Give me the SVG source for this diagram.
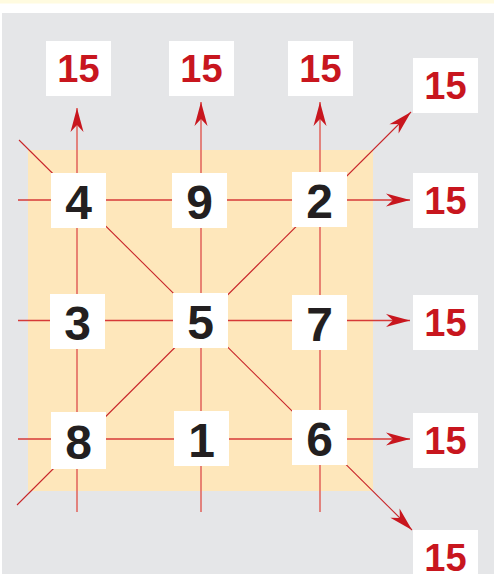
<svg xmlns="http://www.w3.org/2000/svg" width="494" height="574" viewBox="0 0 494 574">
<defs>
<style>
.box{fill:#FFFFFF}
.num{font-family:"Liberation Sans",Arial,sans-serif;font-weight:bold;font-size:48px;fill:#231F20;text-anchor:middle}
.sum{font-family:"Liberation Sans",Arial,sans-serif;font-weight:bold;font-size:38px;fill:#C8161E;text-anchor:middle}
.v{stroke:#E0605A;stroke-width:1.5;fill:none}
.h{stroke:#D63A38;stroke-width:1.3;fill:none}
.d{stroke:#C8262A;stroke-width:1.1;fill:none}
</style>
<marker id="arr" markerUnits="userSpaceOnUse" viewBox="-25 -8 26 16" refX="0" refY="0" markerWidth="26" markerHeight="16" orient="auto">
<path d="M0,0 L-24,-6.5 L-17,0 L-24,6.5 Z" fill="#C8161E"/>
</marker>
</defs>
<rect x="0" y="0" width="494" height="574" fill="#FFFFFF"/>
<rect x="0" y="0" width="494" height="3.5" fill="#FFFBE0"/>
<rect x="2" y="13" width="492" height="561" fill="#E5E6E8"/>
<rect x="28" y="150" width="345" height="341" fill="#FEE7BB"/>
<g id="connectors">
<line class="v" x1="77" y1="512" x2="77" y2="108" marker-end="url(#arr)"/>
<line class="v" x1="201" y1="512" x2="201" y2="102" marker-end="url(#arr)"/>
<line class="v" x1="320" y1="512" x2="320" y2="102" marker-end="url(#arr)"/>
<line class="h" x1="18" y1="200" x2="410" y2="200" marker-end="url(#arr)"/>
<line class="h" x1="18" y1="320.5" x2="410" y2="320.5" marker-end="url(#arr)"/>
<line class="h" x1="18" y1="439" x2="410" y2="439" marker-end="url(#arr)"/>
<line class="d" x1="19" y1="140" x2="412" y2="530" marker-end="url(#arr)"/>
<line class="d" x1="17" y1="505" x2="411" y2="112" marker-end="url(#arr)"/>
</g>
<g id="node-4"><rect class="box" x="51" y="173" width="55" height="55"/><text class="num" x="78.5" y="219">4</text></g>
<g id="node-9"><rect class="box" x="172" y="173" width="55" height="55"/><text class="num" x="199.5" y="219">9</text></g>
<g id="node-2"><rect class="box" x="292" y="172" width="55" height="55"/><text class="num" x="319.5" y="218">2</text></g>
<g id="node-3"><rect class="box" x="50" y="294" width="55" height="55"/><text class="num" x="77.5" y="340">3</text></g>
<g id="node-5"><rect class="box" x="173" y="293" width="55" height="55"/><text class="num" x="200.5" y="339">5</text></g>
<g id="node-7"><rect class="box" x="292" y="295" width="55" height="55"/><text class="num" x="319.5" y="341">7</text></g>
<g id="node-8"><rect class="box" x="51" y="412" width="55" height="57"/><text class="num" x="78.5" y="459">8</text></g>
<g id="node-1"><rect class="box" x="174" y="411" width="55" height="55"/><text class="num" x="201.5" y="457">1</text></g>
<g id="node-6"><rect class="box" x="292" y="410" width="55" height="55"/><text class="num" x="319.5" y="456">6</text></g>
<g id="sum-top-1"><rect class="box" x="46" y="41" width="65" height="55"/><text class="sum" x="78.5" y="82">15</text></g>
<g id="sum-top-2"><rect class="box" x="169" y="41" width="65" height="55"/><text class="sum" x="201.5" y="82">15</text></g>
<g id="sum-top-3"><rect class="box" x="288" y="41" width="65" height="55"/><text class="sum" x="320.5" y="82">15</text></g>
<g id="sum-diag-up"><rect class="box" x="413" y="58" width="65" height="55"/><text class="sum" x="445.5" y="99">15</text></g>
<g id="sum-row-1"><rect class="box" x="413" y="173" width="65" height="55"/><text class="sum" x="445.5" y="214">15</text></g>
<g id="sum-row-2"><rect class="box" x="413" y="295" width="65" height="55"/><text class="sum" x="445.5" y="336">15</text></g>
<g id="sum-row-3"><rect class="box" x="413" y="413" width="65" height="55"/><text class="sum" x="445.5" y="454">15</text></g>
<g id="sum-diag-down"><rect class="box" x="413" y="530" width="65" height="55"/><text class="sum" x="445.5" y="571">15</text></g>
</svg>
